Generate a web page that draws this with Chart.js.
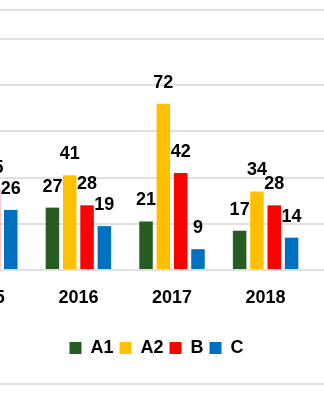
<!DOCTYPE html>
<html>
<head>
<meta charset="utf-8">
<script src="https://cdn.jsdelivr.net/npm/chart.js@4"></script>
<style>
  html, body { margin: 0; padding: 0; background: #fff; }
  #wrap { position: relative; width: 324px; height: 400px; overflow: hidden; background: #fff; }
  #frame { position: absolute; left: -20px; right: -20px; top: 9px; height: 372px;
           border-top: 2px solid #e0e0e0; border-bottom: 2px solid #e0e0e0; }
  #chart { position: absolute; left: -93px; top: 0; }
</style>
</head>
<body>
<div id="wrap">
  <div id="frame"></div>
  <canvas id="chart" width="499" height="400"></canvas>
</div>
<script>
// catégories (2015 et 2019 sont coupées par le cadrage)
const years = ['2015', '2016', '2017', '2018', '2019'];
const a1Values = [30, 27, 21, 17, null];
const a2Values = [45, 41, 72, 34, null];
const bValues  = [35, 28, 42, 28, null];
const cValues  = [26, 19, 9, 14, null];
const yTicks = [0, 20, 40, 60, 80, 100];

const FONT = "'Liberation Sans', Arial, sans-serif";

// étiquettes de valeur au-dessus des barres
const valueLabels = {
    id: 'valueLabels',
    afterDatasetsDraw(chart) {
        const ctx = chart.ctx;
        ctx.save();
        ctx.font = 'bold 18px ' + FONT;
        ctx.fillStyle = '#000';
        ctx.textAlign = 'center';
        ctx.textBaseline = 'alphabetic';
        chart.data.datasets.forEach((ds, i) => {
            chart.getDatasetMeta(i).data.forEach((bar, j) => {
                const v = ds.data[j];
                if (v === null) return;
                ctx.fillText(String(v), bar.x, bar.y - 16);
            });
        });
        ctx.restore();
    }
};

const ctx = document.getElementById('chart').getContext('2d');
const chart = new Chart(ctx, {
    type: 'bar',
    data: {
        labels: years,
        datasets: [
            { label: 'A1', data: a1Values, backgroundColor: '#265C1F', borderWidth: 0 },
            { label: 'A2', data: a2Values, backgroundColor: '#FFC000', borderWidth: 0 },
            { label: 'B',  data: bValues,  backgroundColor: '#FF0000', borderWidth: 0 },
            { label: 'C',  data: cValues,  backgroundColor: '#0070C0', borderWidth: 0 }
        ]
    },
    options: {
        responsive: false,
        animation: false,
        layout: { padding: { top: 39, bottom: 33, left: 0, right: 0 } },
        datasets: { bar: { categoryPercentage: 0.74, barPercentage: 0.78 } },
        scales: {
            x: {
                grid: { display: false, drawTicks: false },
                border: { display: false },
                ticks: { padding: 17, color: '#000', font: { family: FONT, size: 18, weight: 'bold' } },
                afterFit: (axis) => { axis.height = 63; }
            },
            y: {
                min: yTicks[0],
                max: yTicks[yTicks.length - 1],
                ticks: { display: false, stepSize: yTicks[1] - yTicks[0] },
                grid: { color: '#e0e0e0', lineWidth: 2, drawTicks: false },
                border: { display: false },
                afterFit: (axis) => { axis.width = 31; }
            }
        },
        plugins: {
            legend: {
                position: 'bottom',
                labels: {
                    boxWidth: 12,
                    boxHeight: 12,
                    padding: 6,
                    color: '#000',
                    font: { family: FONT, size: 18, weight: 'bold' }
                }
            },
            tooltip: { enabled: false }
        }
    },
    plugins: [valueLabels]
});
</script>
</body>
</html>
